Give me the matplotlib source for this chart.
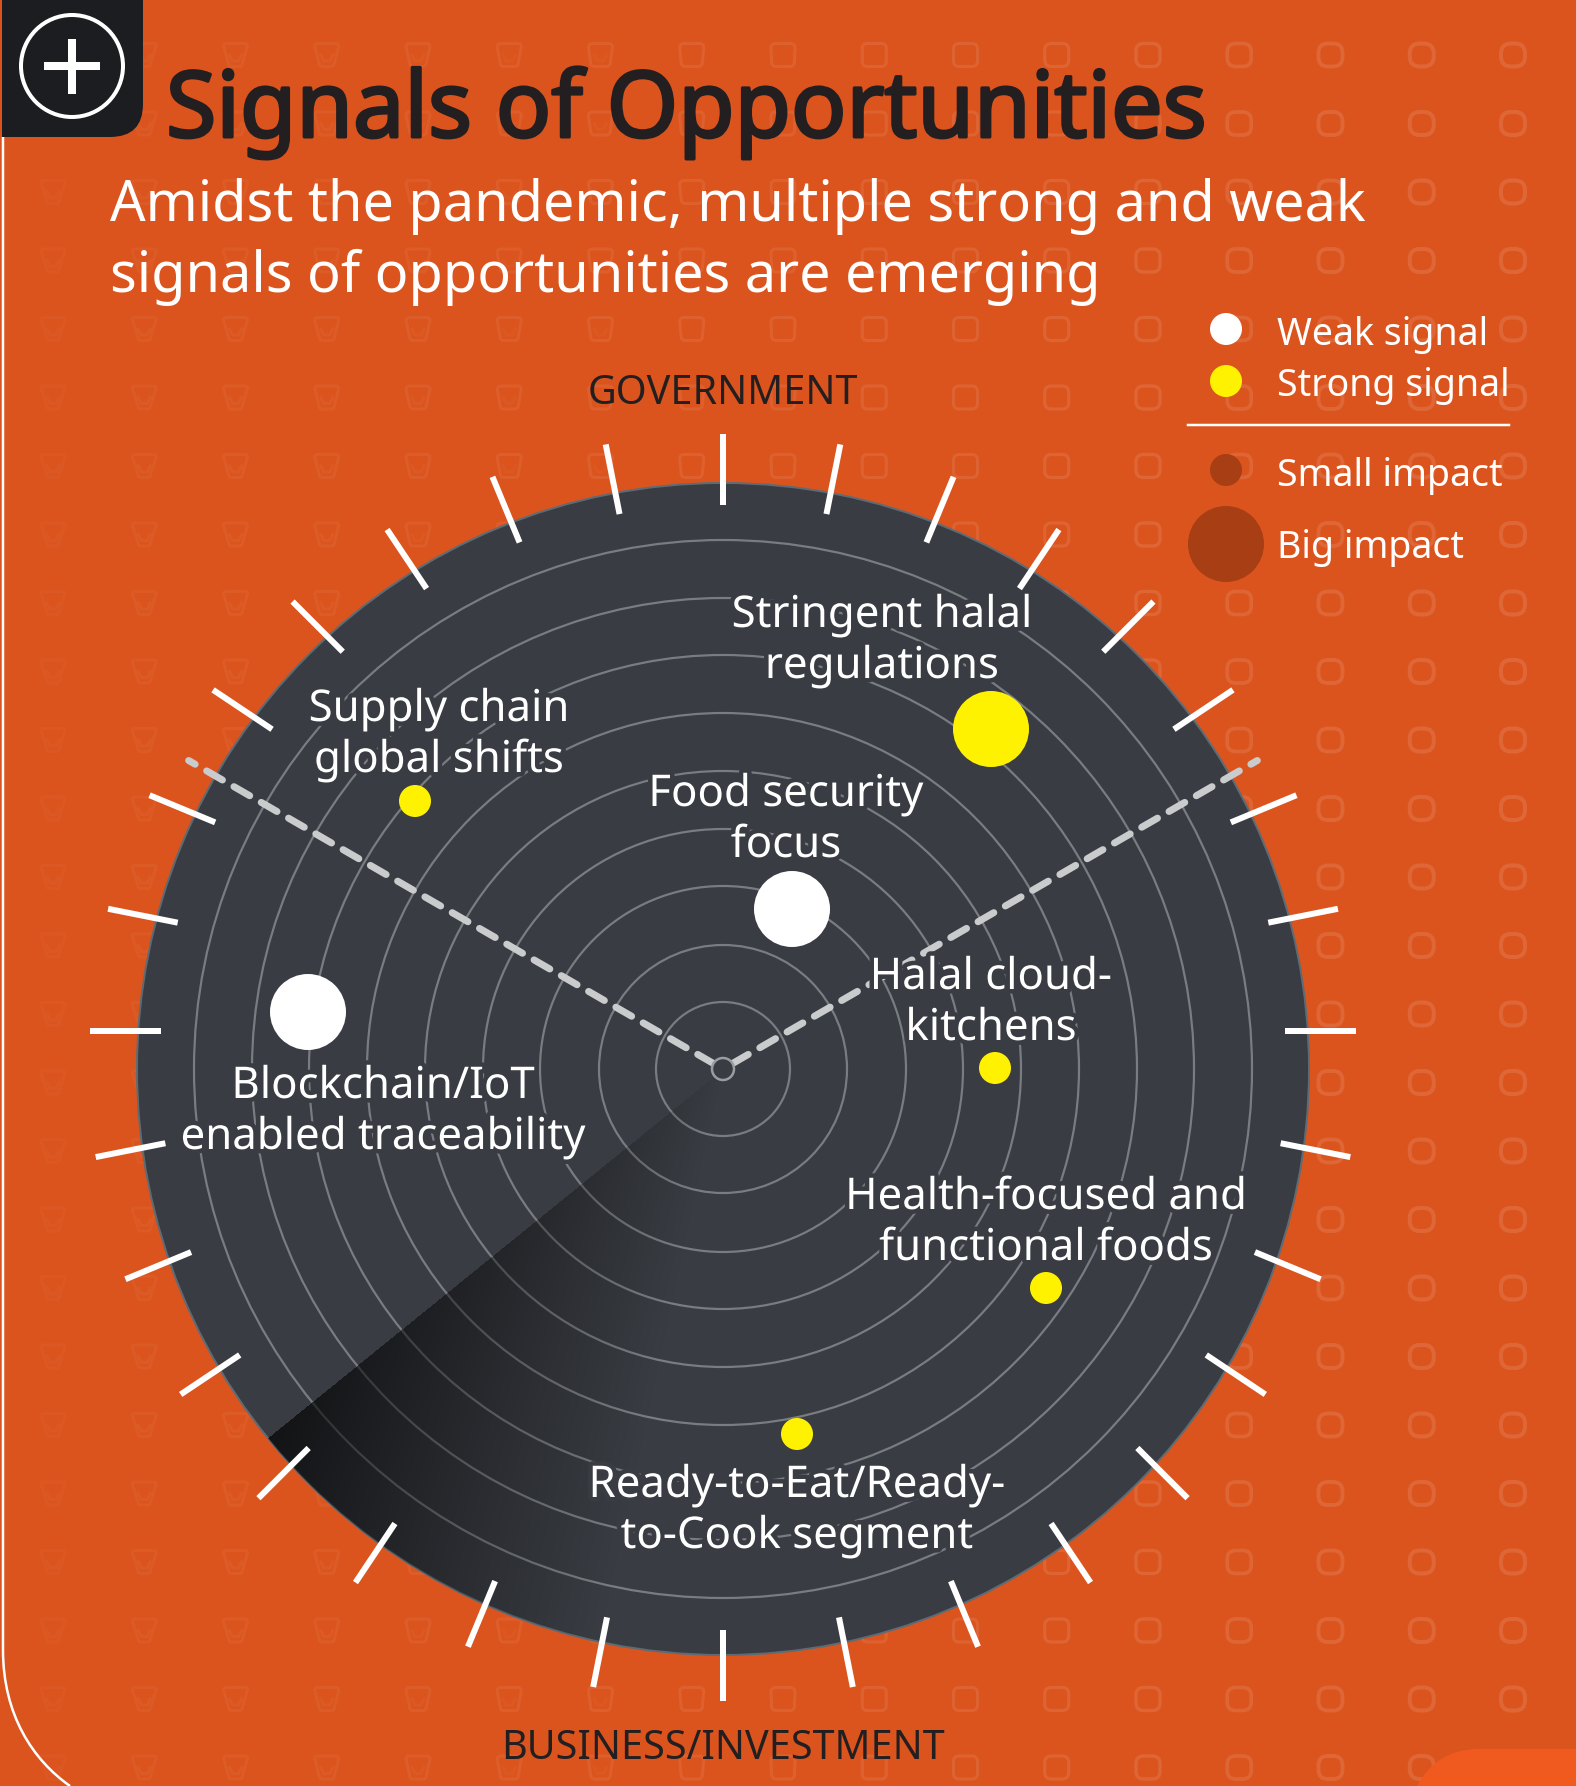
import numpy as np
import matplotlib
matplotlib.use("Agg")
import matplotlib.pyplot as plt
import matplotlib.patheffects as pe
from matplotlib.patches import Circle, PathPatch
from matplotlib.path import Path

# ---- values (pixel space of the reference) ----
center_x, center_y = 723, 1069
ring_radii = [67, 124, 183, 240, 298, 356, 414, 471, 529]
disc_radius = 586

# where each tick sits, clockwise from the top, right side only (the left is mirrored)
# the ticks themselves turn by 11.25 deg each, they do not point exactly at the centre
tick_angles = [0, 10.6, 21.2, 31.8, 42.5, 53.2, 64.3, 75.2, 86.4, 97.8, 109.2,
               120.8, 132.6, 144.3, 156.1, 168.1, 180]
tick_radii = [600, 600, 600, 600, 600, 600, 600, 600, 599, 598, 598,
              597, 597, 596, 596, 596, 596]
tick_turn = 11.25

signal_x = [991, 415, 792, 995, 308, 1046, 797]
signal_y = [729, 801, 909, 1068, 1012, 1288, 1434]
signal_r = [38, 16, 38, 16, 38, 16, 16]
signal_kind = ["strong", "strong", "weak", "strong", "weak", "strong", "strong"]

label_lines = [
    ("Stringent halal", "regulations"),
    ("Supply chain", "global shifts"),
    ("Food security", "focus"),
    ("Halal cloud-", "kitchens"),
    ("Blockchain/IoT", "enabled traceability"),
    ("Health-focused and", "functional foods"),
    ("Ready-to-Eat/Ready-", "to-Cook segment"),
]
label_x = [882, 439, 786, 991, 383, 1046, 797]
label_y = [627, 721, 806, 989, 1098, 1209, 1497]

legend_labels = ["Weak signal", "Strong signal", "Small impact", "Big impact"]
legend_y = [329, 381, 470, 544]
legend_r = [16, 16, 16, 38]
legend_base = [345, 396, 486, 558]

BG = "#db541e"
DISC = "#393c42"
RING = "#797d82"
DARK = "#231f20"
YELLOW = "#fff200"
FONT = "Noto Sans"

plt.rcParams["font.family"] = [FONT, "DejaVu Sans"]

fig = plt.figure(figsize=(15.76, 17.86), dpi=100, facecolor=BG)
ax = fig.add_axes([0, 0, 1, 1])
ax.set_facecolor(BG)
ax.axis("off")


def px(n):
    return n * 0.72


def icon_path(x, y, m, c):
    # bucket shape on the left slowly turning to a rounded square on the right
    top = 12
    bot = 6 + 6 * m
    h = 11.5
    verts = [(x - top + c, y - h), (x + top - c, y - h), (x + top, y - h), (x + top, y - h + c),
             (x + bot, y + h - c), (x + bot, y + h), (x + bot - c, y + h),
             (x - bot + c, y + h), (x - bot, y + h), (x - bot, y + h - c),
             (x - top, y - h + c), (x - top, y - h), (x - top + c, y - h), (x - top + c, y - h)]
    codes = [Path.MOVETO, Path.LINETO, Path.CURVE3, Path.CURVE3,
             Path.LINETO, Path.CURVE3, Path.CURVE3,
             Path.LINETO, Path.CURVE3, Path.CURVE3,
             Path.LINETO, Path.CURVE3, Path.CURVE3, Path.CLOSEPOLY]
    return Path(verts, codes)


# faint background pattern
for col in range(17):
    ix = 53 + 91.25 * col
    m = min(max((ix - 150) / 700, 0), 1)
    corner = 2 + 3 * m + 5 * min(max((ix - 900) / 500, 0), 1)
    a = 0.025 + 0.09 * min(ix / 1300, 1)
    lw = 3 + min(max((ix - 1000) / 400, 0), 1)
    for row in range(26):
        iy = 55 + 68.5 * row
        ax.add_patch(PathPatch(icon_path(ix, iy, m, corner), fc="none", ec="white", lw=px(lw), alpha=a, zorder=1))
        if m < 0.7:
            # inner notch of the bucket icons
            ax.plot([ix - 6, ix - 3, ix + 3, ix + 6], [iy, iy + 6, iy + 6, iy], color="white",
                    lw=px(3), alpha=a * (1 - m), zorder=1)

# lighter corner, bottom right
ax.add_patch(PathPatch(Path([(1417, 1786), (1430, 1762), (1450, 1749), (1480, 1749), (1576, 1749), (1576, 1786), (1417, 1786)],
                            [Path.MOVETO, Path.CURVE4, Path.CURVE4, Path.CURVE4, Path.LINETO, Path.LINETO, Path.CLOSEPOLY]),
                       fc="#f05a1e", ec="none", zorder=2))

# thin white frame on the left
ax.add_patch(PathPatch(Path([(3, 137), (3, 1650), (3, 1715), (33, 1760), (70, 1786)],
                            [Path.MOVETO, Path.LINETO, Path.CURVE4, Path.CURVE4, Path.CURVE4]),
                       fc="none", ec="white", lw=px(2.5), zorder=2))

# corner box with the plus sign
ax.add_patch(PathPatch(Path([(2, 0), (143, 0), (143, 104), (143, 137), (110, 137), (2, 137), (2, 0)],
                            [Path.MOVETO, Path.LINETO, Path.LINETO, Path.CURVE3, Path.CURVE3, Path.LINETO, Path.CLOSEPOLY]),
                       fc="#1c1d21", ec="none", zorder=3))
ax.add_patch(Circle((72, 66), 51, fc="none", ec="white", lw=px(4), zorder=4))
ax.plot([44, 100], [66, 66], color="white", lw=px(8), solid_capstyle="butt", zorder=4)
ax.plot([72, 72], [39, 94], color="white", lw=px(8), solid_capstyle="butt", zorder=4)

# title, Noto Sans has no semibold here so it gets a thin outline of its own colour
ax.text(166, 137, "Signals of Opportunities", fontsize=66, color=DARK, va="baseline", zorder=5,
        path_effects=[pe.withStroke(linewidth=px(3), foreground=DARK)])
ax.text(110, 221, "Amidst the pandemic, multiple strong and weak", fontsize=40.2, color="white", va="baseline", zorder=5)
ax.text(110, 292, "signals of opportunities are emerging", fontsize=40.2, color="white", va="baseline", zorder=5)

# disc and rings
disc = Circle((center_x, center_y), disc_radius, fc=DISC, ec="#5d6b75", lw=px(2), zorder=6)
ax.add_patch(disc)
for r in ring_radii:
    ax.add_patch(Circle((center_x, center_y), r, fc="none", ec=RING, lw=px(2.2), zorder=7))

# radar sweep shadow, sharp edge at lower left, fading toward the bottom
gx, gy = np.meshgrid(np.arange(center_x - disc_radius, center_x + disc_radius),
                     np.arange(center_y - disc_radius, center_y + disc_radius))
dx = gx - center_x
dy = gy - center_y
theta = np.degrees(np.arctan2(-dx, dy))
u = np.clip((theta - 12) / 39, 0, 1)
u[theta > 51] = 0
shade = np.zeros(gx.shape + (4,))
shade[..., 3] = 0.68 * u * np.clip(np.hypot(dx, dy) / disc_radius, 0, 1) ** 0.8
img = ax.imshow(shade, extent=(center_x - disc_radius, center_x + disc_radius, center_y + disc_radius, center_y - disc_radius),
                zorder=8, interpolation="bilinear")
img.set_clip_path(Circle((center_x, center_y), disc_radius, transform=ax.transData))

# sector dividers
for sign in (-1, 1):
    ax.plot([center_x + sign * 11 * np.sin(np.radians(60)), center_x + sign * 617 * np.sin(np.radians(60))],
            [center_y - 11 * np.cos(np.radians(60)), center_y - 617 * np.cos(np.radians(60))],
            color="#c9cbcc", lw=px(7), dashes=(2.6, 1.9), dash_capstyle="round", zorder=9)
ax.add_patch(Circle((center_x, center_y), 11, fc=DISC, ec="#9a9da0", lw=px(2.5), zorder=10))

# rim ticks
for i, (a, rad) in enumerate(zip(tick_angles, tick_radii)):
    for s in ([1] if a in (0, 180) else [-1, 1]):
        t = np.radians(a)
        turn = np.radians(i * tick_turn)
        mx = center_x + s * rad * np.sin(t)
        my = center_y - rad * np.cos(t)
        ax.plot([mx - s * 35.5 * np.sin(turn), mx + s * 35.5 * np.sin(turn)],
                [my + 35.5 * np.cos(turn), my - 35.5 * np.cos(turn)],
                color="white", lw=px(6), solid_capstyle="butt", zorder=9)

# signals
for x, y, r, kind in zip(signal_x, signal_y, signal_r, signal_kind):
    ax.add_patch(Circle((x, y), r, fc=YELLOW if kind == "strong" else "white", ec="none", zorder=11))

halo = [pe.withStroke(linewidth=px(9), foreground=DISC)]
for lines, x, y in zip(label_lines, label_x, label_y):
    for i, line in enumerate(lines):
        ax.text(x, y + 51 * i, line, fontsize=31.5, color="white", ha="center", va="baseline",
                path_effects=halo, zorder=12)

# axis titles
ax.text(center_x, 404, "GOVERNMENT", fontsize=28.5, color=DARK, ha="center", va="baseline", zorder=5)
ax.text(center_x, 1759, "BUSINESS/INVESTMENT", fontsize=28.5, color=DARK, ha="center", va="baseline", zorder=5)

# legend
legend_colors = ["white", YELLOW, "#a73e14", "#a73e14"]
for txt, y, r, c, b in zip(legend_labels, legend_y, legend_r, legend_colors, legend_base):
    ax.add_patch(Circle((1226, y), r, fc=c, ec="none", zorder=5))
    ax.text(1277, b, txt, fontsize=27, color="white", va="baseline", zorder=5)
ax.plot([1188, 1509], [425, 425], color="white", lw=px(2.5), zorder=5)

ax.set_xlim(0, 1576)
ax.set_ylim(1786, 0)
fig.savefig("out.png", dpi=100, facecolor=BG)
